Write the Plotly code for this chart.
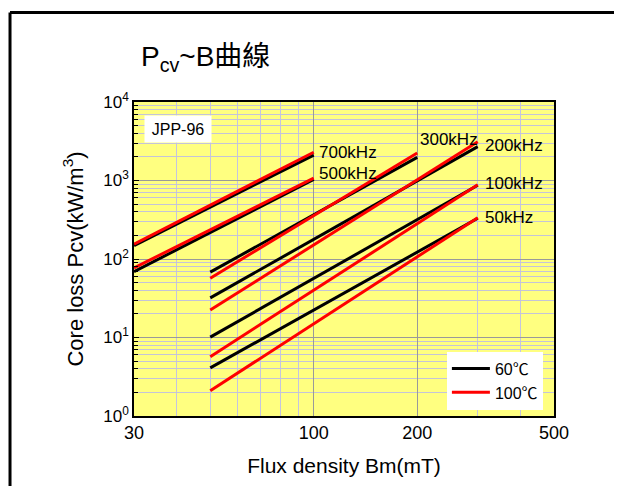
import math
import plotly.graph_objects as go

# ---- data ----
freq_labels = ['700kHz', '500kHz', '300kHz', '200kHz', '100kHz', '50kHz']
b_start = [30, 30, 50, 50, 50, 50]          # mT
b_end = [100, 100, 200, 300, 300, 300]      # mT
pcv_60_start = [148, 69, 68, 32, 10.1, 4.1]     # kW/m3 at 60C
pcv_60_end = [2110, 1030, 1970, 2700, 870, 330]
pcv_100_start = [155, 77, 57, 22.4, 5.7, 2.1]   # kW/m3 at 100C
pcv_100_end = [2290, 1070, 2240, 3120, 880, 336]

x_tick_vals = [30, 100, 200, 500]
x_tick_text = ['30', '100', '200', '500']
x_minor_vals = [40, 50, 60, 70, 80, 90, 300, 400]
y_tick_vals = [1, 10, 100, 1000, 10000]
y_tick_text = ['10<sup>0</sup>', '10<sup>1</sup>', '10<sup>2</sup>', '10<sup>3</sup>', '10<sup>4</sup>']
y_minor_vals = [m * d for d in [1, 10, 100, 1000] for m in range(2, 10)]

FONT = 'Liberation Sans, Arial, Noto Sans CJK TC'

fig = go.Figure()

for i, lab in enumerate(freq_labels):
    fig.add_trace(go.Scatter(
        x=[b_start[i], b_end[i]], y=[pcv_60_start[i], pcv_60_end[i]],
        mode='lines', line=dict(color='black', width=3),
        name='60℃', showlegend=(i == 0), hoverinfo='skip'))
for i, lab in enumerate(freq_labels):
    fig.add_trace(go.Scatter(
        x=[b_start[i], b_end[i]], y=[pcv_100_start[i], pcv_100_end[i]],
        mode='lines', line=dict(color='#ff0000', width=3),
        name='100℃', showlegend=(i == 0), hoverinfo='skip'))

# frequency labels at line ends (log axes take log10 positions)
label_shift = {'700kHz': (3, 0), '500kHz': (3, 5), '300kHz': (1, 14),
               '200kHz': (5, -4), '100kHz': (5, 1), '50kHz': (5, 0)}
for i, lab in enumerate(freq_labels):
    dx, dy = label_shift[lab]
    fig.add_annotation(x=math.log10(b_end[i]), y=math.log10(pcv_100_end[i]),
                       xref='x', yref='y',
                       text=lab, showarrow=False, xanchor='left', yanchor='middle',
                       xshift=dx, yshift=dy,
                       font=dict(family=FONT, size=17, color='black'))

# material label box
fig.add_annotation(x=0.105, y=0.914, xref='paper', yref='paper', text='JPP-96',
                   showarrow=False, xanchor='center', yanchor='middle',
                   bgcolor='white', width=62, height=22, borderpad=2,
                   font=dict(family=FONT, size=16, color='black'))

# chart title
fig.add_annotation(x=0.012, y=1.14, xref='paper', yref='paper',
                   text='P<sub>cv</sub>~B曲線', showarrow=False,
                   xanchor='left', yanchor='middle',
                   font=dict(family=FONT, size=28, color='black'))

# outer frame (left and top edges)
fig.add_shape(type='line', xref='paper', yref='paper', x0=-0.2952, x1=-0.2952,
              y0=-0.4, y1=1.285, line=dict(color='black', width=3))
fig.add_shape(type='line', xref='paper', yref='paper', x0=-0.2952, x1=1.3,
              y0=1.285, y1=1.285, line=dict(color='black', width=3))

fig.update_layout(
    width=614, height=478,
    margin=dict(l=126, r=68, t=94, b=70),
    paper_bgcolor='white', plot_bgcolor='#ffff80',
    font=dict(family=FONT, color='black'),
    legend=dict(x=0.745, y=0.205, xanchor='left', yanchor='top',
                bgcolor='white', borderwidth=0, tracegroupgap=0, itemwidth=38,
                font=dict(family=FONT, size=16, color='black')),
    xaxis=dict(type='log', range=[1.4771, 2.6990],
               tickmode='array', tickvals=x_tick_vals, ticktext=x_tick_text,
               tickfont=dict(size=18), ticks='',
               showgrid=True, gridcolor='#9a9a9a', gridwidth=1,
               minor=dict(tickmode='array', tickvals=x_minor_vals, showgrid=True,
                          gridcolor='#c4c4e0', gridwidth=1, ticks=''),
               showline=True, linecolor='black', linewidth=1.5, mirror=True,
               zeroline=False,
               title=dict(text='Flux density Bm(mT)', font=dict(size=21), standoff=16)),
    yaxis=dict(type='log', range=[0, 4],
               tickmode='array', tickvals=y_tick_vals, ticktext=y_tick_text,
               tickfont=dict(size=17), ticks='inside', ticklen=5, tickcolor='black',
               showgrid=True, gridcolor='#9a9a9a', gridwidth=1,
               minor=dict(tickmode='array', tickvals=y_minor_vals, showgrid=True,
                          gridcolor='#c4c4d8', gridwidth=1, ticks='inside',
                          ticklen=4, tickcolor='black'),
               showline=True, linecolor='black', linewidth=1.5, mirror=True,
               zeroline=False,
               title=dict(text='Core loss Pcv(kW/m<sup>3</sup>)', font=dict(size=22), standoff=14)),
)

fig.write_html('out.html')
